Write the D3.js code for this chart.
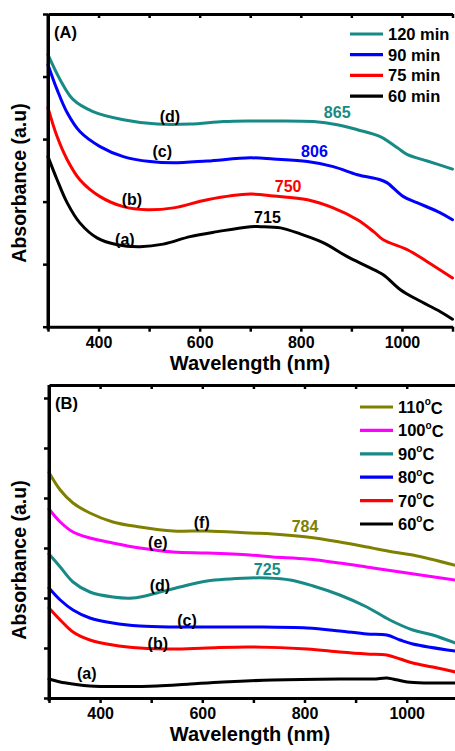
<!DOCTYPE html>
<html>
<head>
<meta charset="utf-8">
<script src="https://cdn.jsdelivr.net/npm/d3@7/dist/d3.min.js"></script>
<style>
  html, body { margin: 0; padding: 0; background: #fff; }
  svg { display: block; font-family: "Liberation Sans", Arial, sans-serif; font-weight: bold; }
</style>
</head>
<body>
<svg id="chart" width="455" height="751"></svg>
<script>
// ---------- Panel A data (wavelength nm, absorbance a.u.) ----------
const a_60min = [[300,2.72],[318,2.35],[338,1.98],[363,1.66],[397,1.42],[437,1.31],[482,1.28],[528,1.32],[581,1.44],[635,1.52],[700,1.60],[720,1.60],[760,1.58],[800,1.48],[845,1.34],[892,1.12],[932,0.96],[963,0.83],[997,0.59],[1031,0.43],[1076,0.24],[1100,0.12]];
const a_75min = [[300,3.50],[318,3.04],[338,2.67],[363,2.35],[403,2.08],[449,1.92],[496,1.87],[548,1.90],[615,2.03],[700,2.12],[746,2.09],[813,2.03],[864,1.90],[912,1.71],[944,1.52],[963,1.39],[1011,1.23],[1050,1.04],[1100,0.78]];
const a_90min = [[300,4.19],[318,3.79],[338,3.42],[363,3.12],[403,2.88],[449,2.72],[502,2.64],[548,2.62],[615,2.65],[700,2.70],[746,2.68],[813,2.64],[864,2.56],[912,2.43],[957,2.35],[971,2.30],[1003,2.08],[1031,1.98],[1076,1.82],[1100,1.71]];
const a_120min = [[300,4.35],[324,3.95],[350,3.63],[389,3.44],[449,3.31],[516,3.24],[581,3.24],[647,3.28],[700,3.29],[746,3.29],[825,3.28],[872,3.23],[912,3.15],[957,3.04],[991,2.86],[1011,2.75],[1050,2.65],[1100,2.52]];

// ---------- Panel B data ----------
const b_60C = [[300,0.38],[322,0.32],[347,0.28],[380,0.24],[445,0.23],[511,0.24],[576,0.28],[641,0.32],[738,0.36],[869,0.38],[934,0.38],[961,0.40],[973,0.38],[1001,0.32],[1040,0.30],[1100,0.30]];
const b_70C = [[300,1.80],[322,1.56],[347,1.32],[380,1.16],[425,1.06],[478,1.00],[543,0.98],[609,1.00],[693,1.02],[805,0.98],[869,0.92],[922,0.88],[961,0.86],[987,0.78],[1012,0.70],[1051,0.62],[1100,0.51]];
const b_80C = [[300,2.20],[322,1.96],[347,1.76],[380,1.60],[425,1.50],[478,1.44],[543,1.42],[693,1.42],[805,1.40],[869,1.34],[922,1.28],[961,1.26],[987,1.16],[1012,1.08],[1100,0.93]];
const b_90C = [[300,2.88],[322,2.62],[347,2.32],[380,2.12],[425,2.02],[464,2.00],[511,2.10],[556,2.22],[609,2.34],[693,2.40],[727,2.40],[772,2.36],[817,2.24],[869,2.06],[922,1.82],[967,1.56],[1012,1.36],[1051,1.26],[1100,1.08]];
const b_100C = [[300,3.78],[322,3.52],[347,3.32],[380,3.20],[425,3.10],[478,3.00],[543,2.92],[609,2.90],[693,2.86],[738,2.82],[805,2.78],[869,2.70],[934,2.60],[1001,2.50],[1100,2.35]];
const b_110C = [[300,4.51],[322,4.16],[347,3.90],[380,3.70],[425,3.52],[478,3.42],[543,3.34],[609,3.34],[693,3.30],[738,3.28],[805,3.22],[869,3.12],[922,3.02],[973,2.92],[1012,2.86],[1100,2.64]];

// ---------- Labels ----------
const seriesNamesA = ["120 min", "90 min", "75 min", "60 min"];
const seriesNamesB = ["110", "100", "90", "80", "70", "60"];
const xTickValues = [300, 400, 500, 600, 700, 800, 900, 1000, 1100];
const xTickLabels = [400, 600, 800, 1000];
const curveLetterA = [["(d)",541,3.36],["(c)",526,2.80],["(b)",466,2.03],["(a)",452,1.40]];
const peakLabelA = [["865",872,3.42],["806",827,2.80],["750",775,2.25],["715",734,1.74]];
const curveLetterB = [["(f)",599,3.52],["(e)",513,3.12],["(d)",517,2.26],["(c)",570,1.56],["(b)",513,1.10],["(a)",374,0.50]];
const peakLabelB = [["784",801,3.44],["725",727,2.58]];

const TEAL = "#178a86", BLUE = "#0000ff", RED = "#ff0000", BLACK = "#000000", OLIVE = "#808000", MAGENTA = "#ff00ff";

const svg = d3.select("#chart");

function drawPanel(cfg) {
  const x = d3.scaleLinear().domain([300, 1100]).range(cfg.xr);
  const y = d3.scaleLinear().domain(cfg.yd).range(cfg.yr);
  const g = svg.append("g");

  const line = d3.line().x(d => x(d[0])).y(d => y(d[1])).curve(d3.curveCatmullRom.alpha(0.5));

  // curves (draw bottom series first)
  cfg.series.slice().reverse().forEach(s => {
    g.append("path").attr("d", line(s.data)).attr("fill", "none")
      .attr("stroke", s.color).attr("stroke-width", 3).attr("stroke-linejoin", "round").attr("stroke-linecap", "round");
  });

  // axes
  const axB = g.append("g").attr("transform", `translate(0,${cfg.yr[0]})`)
    .call(d3.axisBottom(x).tickValues(xTickValues).tickSize(5).tickSizeOuter(0).tickPadding(5)
      .tickFormat(d => xTickLabels.includes(d) ? d : ""));
  const axT = g.append("g").attr("transform", `translate(0,${cfg.yr[1]})`)
    .call(d3.axisTop(x).tickValues(xTickValues).tickSize(-4).tickSizeOuter(0).tickFormat(""));
  const axL = g.append("g").attr("transform", `translate(${cfg.xr[0]},0)`)
    .call(d3.axisLeft(y).tickValues(d3.range(0, Math.floor(cfg.yd[1]) + 1)).tickSize(5).tickSizeOuter(0).tickFormat(""));
  [axB, axT, axL].forEach(a => {
    a.select(".domain").attr("stroke", "#000").attr("stroke-width", 3);
    a.selectAll(".tick line").attr("stroke", "#000").attr("stroke-width", 2.5);
    a.selectAll(".tick text").attr("fill", "#000").attr("font-size", 16).attr("font-weight", "bold")
      .attr("font-family", "Liberation Sans, Arial, sans-serif");
  });
  // extend left axis line a bit below
  g.append("line").attr("x1", cfg.xr[0]).attr("x2", cfg.xr[0]).attr("y1", cfg.yr[1]).attr("y2", cfg.yr[0] + 3)
    .attr("stroke", "#000").attr("stroke-width", 3);

  // axis titles
  g.append("text").attr("x", 250).attr("y", cfg.yr[0] + 43).attr("text-anchor", "middle")
    .attr("font-size", 20).text("Wavelength (nm)");
  g.append("text").attr("transform", `translate(26,${cfg.titleY}) rotate(-90)`).attr("text-anchor", "middle")
    .attr("font-size", 19.5).text("Absorbance (a.u)");

  // panel letter
  g.append("text").attr("x", cfg.xr[0] + 6).attr("y", cfg.yr[1] + 24).attr("font-size", 16.5).text(cfg.panel);

  // curve letters & peak labels
  cfg.letters.forEach(l => {
    g.append("text").attr("x", x(l[1])).attr("y", y(l[2])).attr("dy", "0.35em").attr("text-anchor", "middle")
      .attr("font-size", 16).attr("fill", "#000").text(l[0]);
  });
  cfg.peaks.forEach((p, i) => {
    g.append("text").attr("x", x(p[1])).attr("y", y(p[2])).attr("dy", "0.35em").attr("text-anchor", "middle")
      .attr("font-size", 16).attr("fill", cfg.peakColors[i]).text(p[0]);
  });

  // legend
  cfg.series.forEach((s, i) => {
    const ly = cfg.legY0 + i * cfg.legStep;
    g.append("line").attr("x1", cfg.legX).attr("x2", cfg.legX + 33).attr("y1", ly).attr("y2", ly)
      .attr("stroke", s.color).attr("stroke-width", 3.2);
    const t = g.append("text").attr("x", cfg.legX + 38).attr("y", ly).attr("dy", "0.36em").attr("font-size", 16.5);
    if (cfg.celsius) {
      t.append("tspan").text(s.name);
      t.append("tspan").attr("font-size", 10).attr("dy", "-0.75em").text("o");
      t.append("tspan").attr("dy", "0.5em").text("C");
    } else {
      t.text(s.name);
    }
  });
}

drawPanel({
  panel: "(A)",
  xr: [48, 452.5], yd: [0, 5], yr: [326.7, 14],
  titleY: 183,
  series: [
    { name: seriesNamesA[0], data: a_120min, color: TEAL },
    { name: seriesNamesA[1], data: a_90min, color: BLUE },
    { name: seriesNamesA[2], data: a_75min, color: RED },
    { name: seriesNamesA[3], data: a_60min, color: BLACK }
  ],
  letters: curveLetterA, peaks: peakLabelA, peakColors: [TEAL, BLUE, RED, BLACK],
  legX: 350, legY0: 34, legStep: 20.7, celsius: false
});

drawPanel({
  panel: "(B)",
  xr: [49, 457.8], yd: [0, 6.26], yr: [698, 385],
  titleY: 560,
  series: [
    { name: seriesNamesB[0], data: b_110C, color: OLIVE },
    { name: seriesNamesB[1], data: b_100C, color: MAGENTA },
    { name: seriesNamesB[2], data: b_90C, color: TEAL },
    { name: seriesNamesB[3], data: b_80C, color: BLUE },
    { name: seriesNamesB[4], data: b_70C, color: RED },
    { name: seriesNamesB[5], data: b_60C, color: BLACK }
  ],
  letters: curveLetterB, peaks: peakLabelB, peakColors: [OLIVE, TEAL],
  legX: 360, legY0: 407, legStep: 23.4, celsius: true
});
</script>
</body>
</html>
